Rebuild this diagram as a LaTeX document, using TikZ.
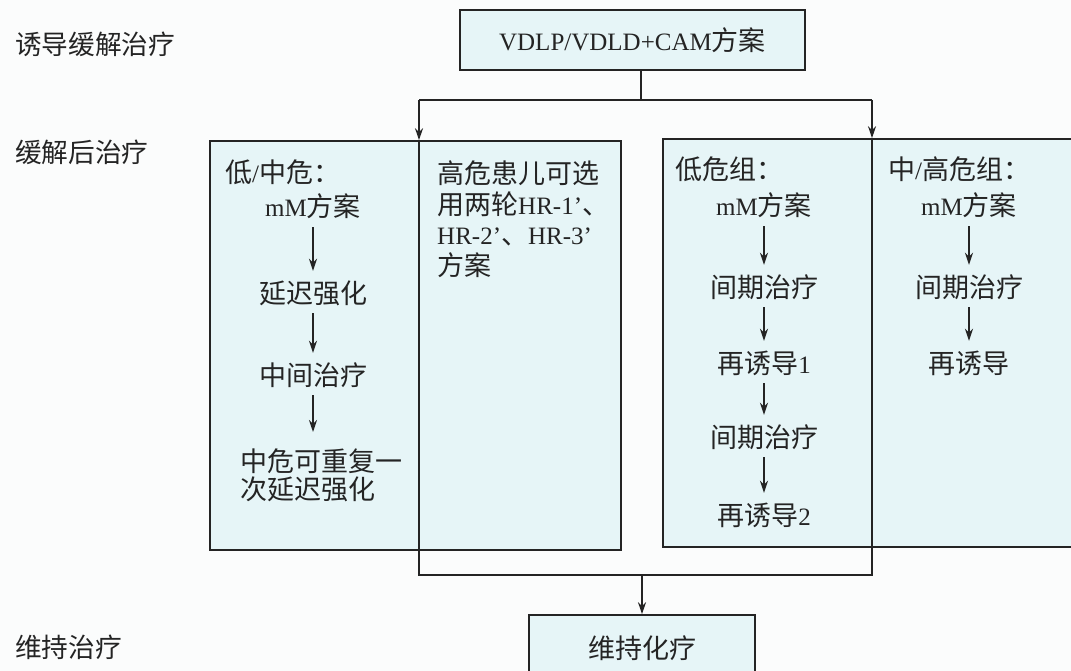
\documentclass[tikz,border=0pt]{standalone}
\usepackage{fontspec}
\setmainfont{Liberation Serif}
\newfontfamily\cjk[Scale=1.08]{Noto Sans CJK SC}
\usetikzlibrary{arrows.meta}
\newcommand{\zh}[1]{{\cjk #1}}
\definecolor{boxfill}{HTML}{E6F5F7}
\definecolor{ink}{HTML}{242424}
\definecolor{paper}{HTML}{FBFCFC}
\begin{document}
\begin{tikzpicture}[x=1pt,y=-1pt,
  every node/.style={text=ink, font=\fontsize{25}{30}\selectfont, inner sep=0pt},
  panel/.style={draw=ink, line width=1.6pt, fill=boxfill},
  item/.style={text height=22pt, text depth=2pt},
  stage/.style={item, anchor=west, font=\cjk\fontsize{24.7}{30}\selectfont},
  head/.style={item, anchor=west},
  conn/.style={draw=ink, line width=1.6pt},
  arr/.style={conn, -{Stealth[length=12pt,width=8pt]}},
  flow/.style={arr, shorten <=8pt, shorten >=10pt},
]
\fill[paper] (0,0) rectangle (1071,671);
\useasboundingbox (0,0) rectangle (1071,671);

% stage labels
\node[stage] (s-ind) at (15,45) {诱导缓解治疗};
\node[stage] (s-post) at (15,153) {缓解后治疗};
\node[stage] (s-main) at (15,647) {维持治疗};

% panels
\node[panel, minimum width=345pt, minimum height=60pt] (ind) at (632.5,40) {VDLP/VDLD+CAM\zh{方案}};
\node[panel, minimum width=411pt, minimum height=409pt] (lbox) at (415.5,345.5) {};
\node[panel, minimum width=430pt, minimum height=408pt] (rbox) at (878,343) {};
\node[panel, minimum width=226pt, minimum height=66pt] (maint) at (642,648) {\zh{维持化疗}};

% left panel, first column
\node[head] (lhead) at (225,173) {\zh{低}/\zh{中危：}};
\node[item] (l1) at (313,207) {mM\zh{方案}};
\node[item] (l2) at (313,293) {\zh{延迟强化}};
\node[item] (l3) at (313,375) {\zh{中间治疗}};
\node[align=left, anchor=north west, font=\fontsize{25}{28}\selectfont] (l4) at (240,449) {\zh{中危可重复一}\\\zh{次延迟强化}};
\draw[flow] (l1.south) -- (l2.north);
\draw[flow] (l2.south) -- (l3.north);
\draw[flow, shorten >=17pt] (l3.south) -- (l3.south |- l4.north);

% left panel, second column
\node[align=left, anchor=north west, font=\fontsize{25}{30.5}\selectfont] (hr) at (437,161)
  {\zh{高危患儿可选}\\\zh{用两轮}HR-1’\zh{、}\\HR-2’\zh{、}HR-3’\\\zh{方案}};

% right panel, low risk
\node[head] (rhead) at (675,170) {\zh{低危组：}};
\node[item] (r1) at (764,206) {mM\zh{方案}};
\node[item] (r2) at (764,287) {\zh{间期治疗}};
\node[item] (r3) at (764,363) {\zh{再诱导}1};
\node[item] (r4) at (764,437) {\zh{间期治疗}};
\node[item] (r5) at (764,515) {\zh{再诱导}2};
\draw[flow] (r1.south) -- (r2.north);
\draw[flow] (r2.south) -- (r3.north);
\draw[flow] (r3.south) -- (r4.north);
\draw[flow] (r4.south) -- (r5.north);

% right panel, intermediate / high risk
\node[head] (qhead) at (888,170) {\zh{中}/\zh{高危组：}};
\node[item] (q1) at (969,206) {mM\zh{方案}};
\node[item] (q2) at (969,287) {\zh{间期治疗}};
\node[item] (q3) at (969,363) {\zh{再诱导}};
\draw[flow] (q1.south) -- (q2.north);
\draw[flow] (q2.south) -- (q3.north);

% connectors
\coordinate (stem) at (641,100);
\coordinate (jl) at (419,100);
\coordinate (jr) at (872,100);
\coordinate (ml) at (419,575);
\coordinate (mr) at (872,575);
\coordinate (mj) at (642,575);
\draw[conn] (stem |- ind.south) -- (stem);
\draw[conn] (jl) -- (jr);
\draw[arr] (jl) -- (jl |- lbox.north);
\draw[arr] (jr) -- (jr |- rbox.north);
\draw[conn] (jl |- lbox.north) -- (ml) -- (mr) -- (jr |- rbox.north);
\draw[arr] (mj) -- (maint.north);
\end{tikzpicture}
\end{document}
